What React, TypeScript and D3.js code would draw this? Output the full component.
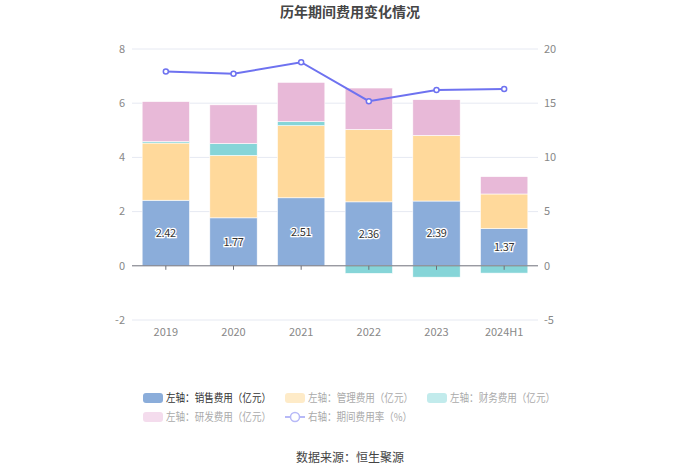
import * as d3 from "d3"
import { useEffect, useRef } from "react"

const categories = ["2019", "2020", "2021", "2022", "2023", "2024H1"]
const salesExpense = [2.42, 1.77, 2.51, 2.36, 2.39, 1.37]
const adminExpense = [2.11, 2.3, 2.66, 2.67, 2.42, 1.28]
const financeExpense = [0.05, 0.44, 0.15, -0.28, -0.42, -0.27]
const rdExpense = [1.48, 1.43, 1.45, 1.53, 1.32, 0.64]
const expenseRate = [17.92, 17.71, 18.78, 15.19, 16.21, 16.3]
const leftTicks = [-2, 0, 2, 4, 6, 8]
const rightTicks = [-5, 0, 5, 10, 15, 20]

const FONT = "'Noto Sans CJK SC', 'Microsoft YaHei', sans-serif"

const series = [
  { name: "左轴：销售费用（亿元）", values: salesExpense, color: "#8badda", faded: "#8badda" },
  { name: "左轴：管理费用（亿元）", values: adminExpense, color: "#ffd99b", faded: "#feebc8" },
  { name: "左轴：财务费用（亿元）", values: financeExpense, color: "#86d5d8", faded: "#c2ebec" },
  { name: "左轴：研发费用（亿元）", values: rdExpense, color: "#e8b9d8", faded: "#f4dced" },
]
const lineName = "右轴：期间费用率（%）"
const lineColor = "#6e72f0"

export default function App() {
  const svgRef = useRef<SVGSVGElement>(null)

  useEffect(() => {
    if (!svgRef.current) return
    const svg = d3.select(svgRef.current)
    svg.selectAll("*").remove()

    const left = 132
    const right = 538
    const top = 49
    const bottom = 320

    const x = d3.scaleBand().domain(categories).range([left, right]).paddingInner(0.3).paddingOuter(0.15)
    const yL = d3.scaleLinear().domain([-2, 8]).range([bottom, top])
    const yR = d3.scaleLinear().domain([-5, 20]).range([bottom, top])

    // title
    svg.append("text")
      .attr("x", 350).attr("y", 17)
      .attr("text-anchor", "middle")
      .style("font-family", FONT).style("font-size", "14px").style("font-weight", "bold")
      .attr("fill", "#464646")
      .text("历年期间费用变化情况")

    // grid
    leftTicks.forEach((t) => {
      if (t === 0) return
      svg.append("line")
        .attr("x1", left).attr("x2", right)
        .attr("y1", yL(t)).attr("y2", yL(t))
        .attr("stroke", "#e6e9f2").attr("stroke-width", 1)
    })

    // axis labels
    leftTicks.forEach((t) => {
      svg.append("text")
        .attr("x", left - 7).attr("y", yL(t)).attr("dy", "0.35em")
        .attr("text-anchor", "end")
        .style("font-family", FONT).style("font-size", "11px")
        .attr("fill", "#888").text(t)
    })
    rightTicks.forEach((t) => {
      svg.append("text")
        .attr("x", right + 6).attr("y", yR(t)).attr("dy", "0.35em")
        .attr("text-anchor", "start")
        .style("font-family", FONT).style("font-size", "11px")
        .attr("fill", "#888").text(t)
    })

    // stacked bars (positives up, negatives down)
    const bw = x.bandwidth()
    categories.forEach((c, i) => {
      let pos = 0
      let neg = 0
      series.forEach((s) => {
        const v = s.values[i]
        let y0, y1
        if (v >= 0) {
          y0 = pos
          y1 = pos + v
          pos = y1
        } else {
          y0 = neg
          y1 = neg + v
          neg = y1
        }
        svg.append("rect")
          .attr("x", x(c)!)
          .attr("y", yL(Math.max(y0, y1)))
          .attr("width", bw)
          .attr("height", Math.abs(yL(y0) - yL(y1)))
          .attr("fill", s.color)
          .attr("stroke", "#fff").attr("stroke-width", 0.6)
      })
    })

    // zero axis line + ticks
    svg.append("line")
      .attr("x1", left).attr("x2", right)
      .attr("y1", yL(0)).attr("y2", yL(0))
      .attr("stroke", "#6e7079").attr("stroke-width", 1)
    categories.forEach((c) => {
      const cx = x(c)! + bw / 2
      svg.append("line")
        .attr("x1", cx).attr("x2", cx)
        .attr("y1", yL(0)).attr("y2", yL(0) + 4)
        .attr("stroke", "#6e7079")
    })

    // category labels
    categories.forEach((c) => {
      svg.append("text")
        .attr("x", x(c)! + bw / 2).attr("y", bottom + 12).attr("dy", "0.35em")
        .attr("text-anchor", "middle")
        .style("font-family", FONT).style("font-size", "11px")
        .attr("fill", "#888").text(c)
    })

    // sales labels
    categories.forEach((c, i) => {
      const v = salesExpense[i]
      svg.append("text")
        .attr("x", x(c)! + bw / 2).attr("y", yL(v / 2)).attr("dy", "0.35em")
        .attr("text-anchor", "middle")
        .style("font-family", FONT).style("font-size", "11px")
        .attr("fill", "#333")
        .attr("stroke", "#fff").attr("stroke-width", 2.5)
        .attr("paint-order", "stroke")
        .attr("letter-spacing", "-0.3px")
        .text(v.toFixed(2))
    })

    // rate line
    const line = d3.line<number>()
      .x((_, i) => x(categories[i])! + bw / 2)
      .y((d) => yR(d))
    svg.append("path")
      .attr("d", line(expenseRate))
      .attr("fill", "none")
      .attr("stroke", lineColor).attr("stroke-width", 2)
    expenseRate.forEach((v, i) => {
      svg.append("circle")
        .attr("cx", x(categories[i])! + bw / 2).attr("cy", yR(v))
        .attr("r", 2.5)
        .attr("fill", "#fff").attr("stroke", lineColor).attr("stroke-width", 1.5)
    })

    // legend
    const legendPos = [
      [143, 398], [285, 398], [427, 398], [143, 417],
    ]
    series.forEach((s, i) => {
      const [lx, ly] = legendPos[i]
      svg.append("rect")
        .attr("x", lx).attr("y", ly - 5).attr("width", 20).attr("height", 10)
        .attr("rx", 3)
        .attr("fill", i === 0 ? s.color : s.faded)
      svg.append("text")
        .attr("x", lx + 23).attr("y", ly).attr("dy", "0.35em")
        .style("font-family", FONT).style("font-size", "11px")
        .attr("textLength", 105).attr("lengthAdjust", "spacingAndGlyphs")
        .attr("fill", i === 0 ? "#333" : "#aaa")
        .text(s.name)
    })
    const [llx, lly] = [285, 417]
    svg.append("line")
      .attr("x1", llx).attr("x2", llx + 20).attr("y1", lly).attr("y2", lly)
      .attr("stroke", "#b7b9f7").attr("stroke-width", 2)
    svg.append("circle")
      .attr("cx", llx + 10).attr("cy", lly).attr("r", 4.5)
      .attr("fill", "#fff").attr("stroke", "#b7b9f7").attr("stroke-width", 1.5)
    svg.append("text")
      .attr("x", llx + 23).attr("y", lly).attr("dy", "0.35em")
      .style("font-family", FONT).style("font-size", "11px")
      .attr("textLength", 104).attr("lengthAdjust", "spacingAndGlyphs")
      .attr("fill", "#aaa")
      .text(lineName)

    // source
    svg.append("text")
      .attr("x", 350).attr("y", 458).attr("dy", "0.35em")
      .attr("text-anchor", "middle")
      .style("font-family", FONT).style("font-size", "12px")
      .attr("fill", "#444")
      .text("数据来源：恒生聚源")
  }, [])

  return (
    <svg
      ref={svgRef}
      width={700}
      height={474}
      style={{ position: "absolute", left: 0, top: 0, background: "#fff" }}
    />
  )
}
